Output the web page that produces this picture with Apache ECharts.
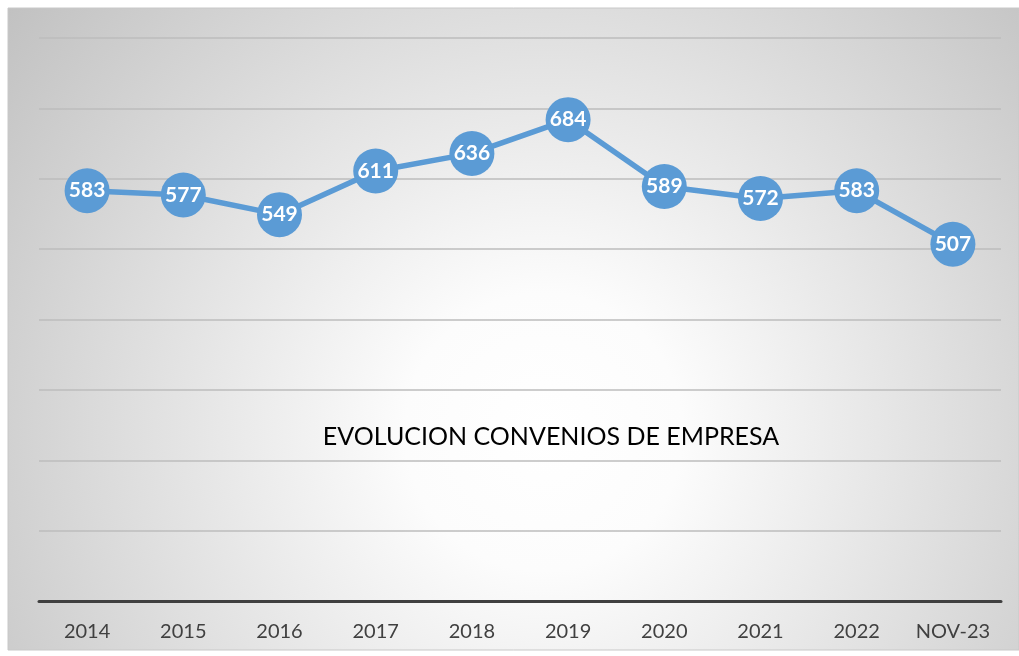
<!DOCTYPE html>
<html>
<head>
<meta charset="utf-8">
<script src="https://cdn.jsdelivr.net/npm/echarts@6/dist/echarts.min.js"></script>
<style>html,body{margin:0;padding:0;background:#fff}#c{width:1019px;height:656px}</style>
</head>
<body>
<div id="c"></div>
<script>
const categories = ['2014','2015','2016','2017','2018','2019','2020','2021','2022','NOV-23'];
const convenios = [583, 577, 549, 611, 636, 684, 589, 572, 583, 507];
const titleText = 'EVOLUCION CONVENIOS DE EMPRESA';

const chart = echarts.init(document.getElementById('c'), null, {renderer: 'canvas'});
chart.setOption({
  animation: false,
  backgroundColor: '#ffffff',
  graphic: [
    {
      type: 'rect', z: -10, silent: true,
      shape: {x: 8, y: 8, width: 1011, height: 642},
      style: {
        fill: {
          type: 'radial', x: 0.53, y: 0.66, r: 1.08,
          colorStops: [
            {offset: 0, color: '#ffffff'},
            {offset: 0.2, color: '#fcfcfc'},
            {offset: 1, color: '#c0c0c0'}
          ]
        },
        stroke: '#c8c8c8', lineWidth: 1
      }
    },
    {
      type: 'text', z: 5, silent: true,
      x: 551, y: 437,
      style: {
        text: titleText, fill: '#000000',
        font: '25px Lato', align: 'center', verticalAlign: 'middle'
      }
    }
  ],
  grid: {left: 39, right: 18, top: 38, bottom: 55, containLabel: false},
  xAxis: {
    type: 'category', data: categories, boundaryGap: true,
    axisLine: {lineStyle: {color: '#404040', width: 3}},
    axisTick: {show: false},
    axisLabel: {color: '#404040', fontSize: 20, fontFamily: 'Lato', margin: 21, interval: 0}
  },
  yAxis: {
    type: 'value', min: 0, max: 800, interval: 100,
    axisLabel: {show: false},
    axisLine: {show: false}, axisTick: {show: false},
    splitLine: {lineStyle: {color: '#bdbdbd', width: 1.5}}
  },
  series: [{
    type: 'line', data: convenios,
    symbol: 'circle', symbolSize: 45,
    lineStyle: {color: '#5B9BD5', width: 5.5},
    itemStyle: {color: '#5B9BD5'},
    label: {
      show: true, position: 'inside', color: '#ffffff',
      fontSize: 21, fontWeight: 'bold', fontFamily: 'Lato'
    }
  }]
});
</script>
</body>
</html>
